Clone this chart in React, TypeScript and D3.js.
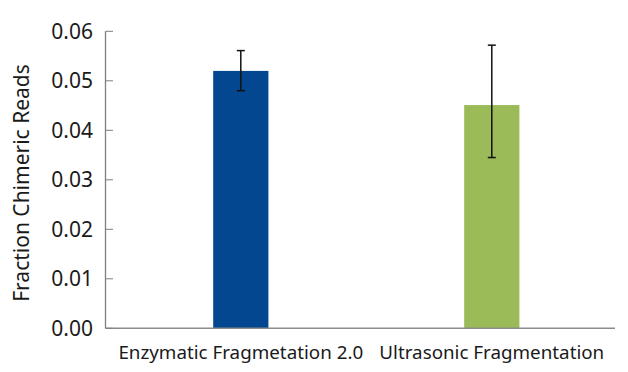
import React from "react";
import * as d3 from "d3";

const categories = ["Enzymatic Fragmetation 2.0", "Ultrasonic Fragmentation"];
const values = [0.052, 0.0451];
const errorHigh = [0.0561, 0.0572];
const errorLow = [0.048, 0.0345];
const yTicks = [0, 0.01, 0.02, 0.03, 0.04, 0.05, 0.06];
const colors = ["#02478F", "#9BBB59"];
const yTitle = "Fraction Chimeric Reads";

const W = 628;
const H = 372;
const axisX = 105.5;
const axisRight = 615;
const FONT = "'Noto Sans', sans-serif";

export default function App() {
  const y = d3.scaleLinear().domain([0, 0.06]).range([328.3, 31.3]);
  const x = d3
    .scaleBand<string>()
    .domain(categories)
    .range([115.3, 617.3])
    .paddingInner(0.78)
    .paddingOuter(0.39);
  const bw = x.bandwidth();
  const baseY = y(0);

  return (
    <svg
      width={W}
      height={H}
      style={{ position: "absolute", left: 0, top: 0, background: "#fff" }}
    >
      {categories.map((c, i) => (
        <rect
          key={c}
          x={x(c)!}
          y={y(values[i])}
          width={bw}
          height={baseY - y(values[i])}
          fill={colors[i]}
        />
      ))}
      {/* axes */}
      <line x1={axisX} x2={axisX} y1={y(0.06)} y2={baseY} stroke="#7f7f7f" strokeWidth={1.3} />
      <line x1={axisX} x2={axisRight} y1={baseY} y2={baseY} stroke="#8c8c8c" strokeWidth={1.6} />
      {yTicks.map((t) => (
        <g key={t}>
          <line x1={axisX} x2={axisX + 7.5} y1={y(t)} y2={y(t)} stroke="#7f7f7f" strokeWidth={1} />
          <text
            x={93}
            y={y(t)}
            dy="0.36em"
            textAnchor="end"
            fontFamily={FONT}
            fontSize={21}
            fill="#1a1a1a"
          >
            {t.toFixed(2)}
          </text>
        </g>
      ))}
      {/* error bars */}
      {categories.map((c, i) => {
        const cx = x(c)! + bw / 2;
        return (
          <g key={"e" + c} stroke="#111" strokeWidth={1.5}>
            <line x1={cx} x2={cx} y1={y(errorHigh[i])} y2={y(errorLow[i])} />
            <line x1={cx - 4} x2={cx + 4} y1={y(errorHigh[i])} y2={y(errorHigh[i])} />
            <line x1={cx - 4} x2={cx + 4} y1={y(errorLow[i])} y2={y(errorLow[i])} />
          </g>
        );
      })}
      {categories.map((c) => (
        <text
          key={"l" + c}
          x={x(c)! + bw / 2}
          y={359}
          textAnchor="middle"
          fontFamily={FONT}
          fontSize={18.8}
          fill="#1a1a1a"
        >
          {c}
        </text>
      ))}
      <text
        transform={`translate(29,183) rotate(-90)`}
        textAnchor="middle"
        fontFamily={FONT}
        fontSize={21}
        fill="#1a1a1a"
      >
        {yTitle}
      </text>
    </svg>
  );
}
